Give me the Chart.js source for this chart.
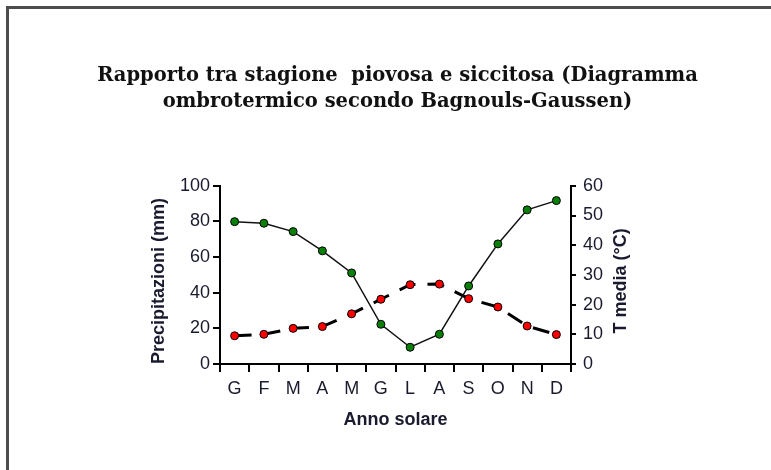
<!DOCTYPE html>
<html lang="it">
<head>
<meta charset="utf-8">
<title>Diagramma ombrotermico</title>
<script src="https://cdn.jsdelivr.net/npm/chart.js@4.4.1/dist/chart.umd.min.js"></script>
<style>
  html, body { margin: 0; padding: 0; background: #fff; overflow: hidden; }
  .frame {
    position: absolute; left: 6px; top: 6px;
    width: 820px; height: 520px;
    border: 3px solid #4d4d4d;
  }
  .chart-box { position: relative; width: 771px; height: 470px; }
</style>
</head>
<body>
<div class="frame"></div>
<div class="chart-box">
  <canvas id="ombroChart" width="771" height="470"></canvas>
</div>
<script>
// Mesi dell'anno solare (iniziali)
const mesi = ['G', 'F', 'M', 'A', 'M', 'G', 'L', 'A', 'S', 'O', 'N', 'D'];
// Precipitazioni medie mensili (mm) - asse sinistro
const precipitazioni = [79.9, 79, 74.3, 63.5, 51.1, 22.3, 9.4, 16.7, 43.8, 67.4, 86.5, 91.7];
// Temperatura media mensile (°C) - asse destro
const temperature = [9.5, 10, 12, 12.6, 16.9, 21.8, 26.7, 26.9, 22, 19.2, 12.8, 9.9];

const titolo = ['Rapporto tra stagione  piovosa e siccitosa (Diagramma', 'ombrotermico secondo Bagnouls-Gaussen)'];
const titoloPrecip = 'Precipitazioni (mm)';
const titoloTemp = 'T media (°C)';
const titoloMesi = 'Anno solare';

const SANS = '"Liberation Sans", Arial, sans-serif';
const TEXT_COLOR = '#1a1a2e';

document.addEventListener('DOMContentLoaded', () => {
  initOmbroChart();
});

/**
 * Titoli verticali degli assi Y (entrambi letti dal basso verso l'alto)
 */
const yTitlesPlugin = {
  id: 'yTitles',
  afterDraw(chart) {
    const { ctx, chartArea } = chart;
    const midY = (chartArea.top + chartArea.bottom) / 2 + 6;
    const drawVertical = (text, x) => {
      ctx.save();
      ctx.font = 'bold 18px ' + SANS;
      ctx.fillStyle = TEXT_COLOR;
      ctx.textAlign = 'center';
      ctx.textBaseline = 'middle';
      ctx.translate(x, midY);
      ctx.rotate(-Math.PI / 2);
      ctx.fillText(text, 0, 0);
      ctx.restore();
    };
    drawVertical(titoloPrecip, chartArea.left - 61);
    drawVertical(titoloTemp, chartArea.right + 50);
  }
};

function initOmbroChart() {
  const ctx = document.getElementById('ombroChart');
  if (!ctx) return;

  new Chart(ctx, {
    type: 'line',
    data: {
      labels: mesi,
      datasets: [
        {
          label: titoloPrecip,
          data: precipitazioni,
          yAxisID: 'y',
          borderColor: '#111111',
          borderWidth: 1.5,
          tension: 0,
          pointRadius: 4,
          pointBackgroundColor: '#0a800a',
          pointBorderColor: '#000000',
          pointBorderWidth: 1
        },
        {
          label: titoloTemp,
          data: temperature,
          yAxisID: 'y1',
          borderColor: '#000000',
          borderWidth: 3,
          borderDash: [17, 12],
          borderCapStyle: 'butt',
          tension: 0,
          pointRadius: 4,
          pointBackgroundColor: '#ff0000',
          pointBorderColor: '#000000',
          pointBorderWidth: 1
        }
      ]
    },
    options: {
      responsive: false,
      animation: false,
      layout: {
        padding: { top: 0, left: 30, right: 6, bottom: 35 }
      },
      plugins: {
        legend: { display: false },
        tooltip: { enabled: false },
        title: {
          display: true,
          text: titolo,
          color: '#111111',
          font: { family: '"DejaVu Serif", serif', size: 19.5, weight: 'bold', lineHeight: 1.38 },
          padding: { top: 62, bottom: 70 }
        }
      },
      scales: {
        x: {
          offset: true,
          grid: {
            offset: true,
            drawOnChartArea: false,
            color: '#000000',
            lineWidth: 2,
            tickLength: 8
          },
          border: { display: true, color: '#000000', width: 2 },
          ticks: {
            color: TEXT_COLOR,
            font: { family: SANS, size: 18 },
            padding: 6,
            maxRotation: 0
          },
          title: {
            display: true,
            text: titoloMesi,
            color: TEXT_COLOR,
            font: { family: SANS, size: 18, weight: 'bold' },
            padding: { top: 4, bottom: 4 }
          },
          afterFit(scale) { scale.height = 71; }
        },
        y: {
          position: 'left',
          min: 0,
          max: 100,
          ticks: {
            stepSize: 20,
            color: TEXT_COLOR,
            font: { family: SANS, size: 18 },
            padding: 3
          },
          grid: {
            drawOnChartArea: false,
            color: '#000000',
            lineWidth: 2,
            tickLength: 7
          },
          border: { display: true, color: '#000000', width: 2 },
          afterFit(scale) { scale.width = 190; }
        },
        y1: {
          position: 'right',
          min: 0,
          max: 60,
          ticks: {
            stepSize: 10,
            color: TEXT_COLOR,
            font: { family: SANS, size: 18 },
            padding: 7
          },
          grid: {
            drawOnChartArea: false,
            color: '#000000',
            lineWidth: 2,
            tickLength: 5
          },
          border: { display: true, color: '#000000', width: 2 },
          afterFit(scale) { scale.width = 194; }
        }
      }
    },
    plugins: [yTitlesPlugin]
  });
}
</script>
</body>
</html>
